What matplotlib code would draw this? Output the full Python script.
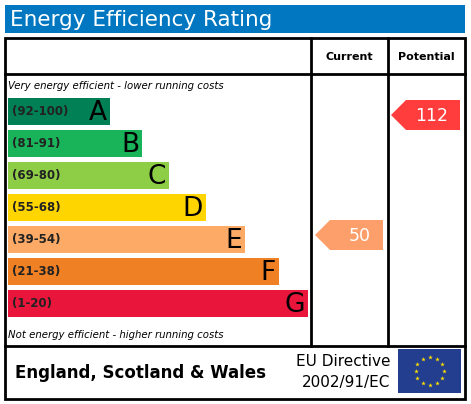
import matplotlib
matplotlib.use('Agg')
import matplotlib.pyplot as plt
from matplotlib.patches import Rectangle, Polygon
import numpy as np

# ── Data ──────────────────────────────────────────────────────────────────────
BANDS   = ['A', 'B', 'C', 'D', 'E', 'F', 'G']
RANGES  = ['(92-100)', '(81-91)', '(69-80)', '(55-68)', '(39-54)', '(21-38)', '(1-20)']
COLORS  = ['#008054', '#19b459', '#8dce46', '#ffd500', '#fcaa65', '#ef8023', '#e9153b']
BAR_END = [110, 142, 169, 206, 245, 279, 308]
CURRENT   = 50
POTENTIAL = 112

# ── Plot (pixel coords) ───────────────────────────────────────────────────────
fig = plt.figure(figsize=(4.71, 4.04), dpi=100)
ax = fig.add_axes([0, 0, 1, 1])
ax.set_xlim(0, 471)
ax.set_ylim(404, 0)
ax.axis('off')

ax.add_patch(Rectangle((5, 5), 460, 28, color='#0077c0', lw=0))
ax.text(10, 20, 'Energy Efficiency Rating', color='white', fontsize=15.5, va='center', ha='left')

k = dict(color='black', lw=2)
ax.add_patch(Rectangle((5, 38), 460, 361, fill=False, ec='black', lw=2))
ax.plot([5, 465], [74, 74], **k)
ax.plot([5, 465], [346, 346], **k)
ax.plot([311, 311], [38, 346], **k)
ax.plot([388, 388], [38, 346], **k)

ax.text(349, 57, 'Current', fontsize=8, fontweight='bold', ha='center', va='center')
ax.text(426, 57, 'Potential', fontsize=8, fontweight='bold', ha='center', va='center')

ax.text(8, 86, 'Very energy efficient - lower running costs', fontsize=7.3, style='italic', va='center')
ax.text(8, 335, 'Not energy efficient - higher running costs', fontsize=7.3, style='italic', va='center')

for i, (b, r, c, x1) in enumerate(zip(BANDS, RANGES, COLORS, BAR_END)):
    y0 = 98 + 32 * i
    ax.add_patch(Rectangle((8, y0), x1 - 8, 27, color=c, lw=0))
    ax.text(12, y0 + 14, r, fontsize=8.5, fontweight='bold', va='center', color='#222')
    ax.text(x1 - 3, y0 + 15, b, fontsize=19, ha='right', va='center')

def arrow(x0, x1, yc, val, color):
    h = 15
    ax.add_patch(Polygon([(x0, yc), (x0 + 15, yc - h), (x1, yc - h), (x1, yc + h), (x0 + 15, yc + h)],
                         closed=True, color=color, lw=0))
    ax.text(x1 - 12, yc + 1, str(val), color='white', fontsize=12.5, ha='right', va='center')

arrow(391, 460, 115, POTENTIAL, '#ff3d3d')
arrow(315, 383, 235, CURRENT, '#fc9f6a')

ax.text(15, 373, 'England, Scotland & Wales', fontsize=12, fontweight='bold', va='center')
ax.text(390, 361, 'EU Directive', fontsize=11, ha='right', va='center')
ax.text(390, 382, '2002/91/EC', fontsize=11, ha='right', va='center')

ax.add_patch(Rectangle((398, 349), 63, 44, color='#233d8f', lw=0))
ang = np.linspace(0, 2 * np.pi, 13)[:-1]
ax.scatter(429.5 + 14 * np.cos(ang), 371 + 14 * np.sin(ang), marker='*', s=12, color='#ffe000', lw=0)

plt.savefig('out.png', dpi=100)
